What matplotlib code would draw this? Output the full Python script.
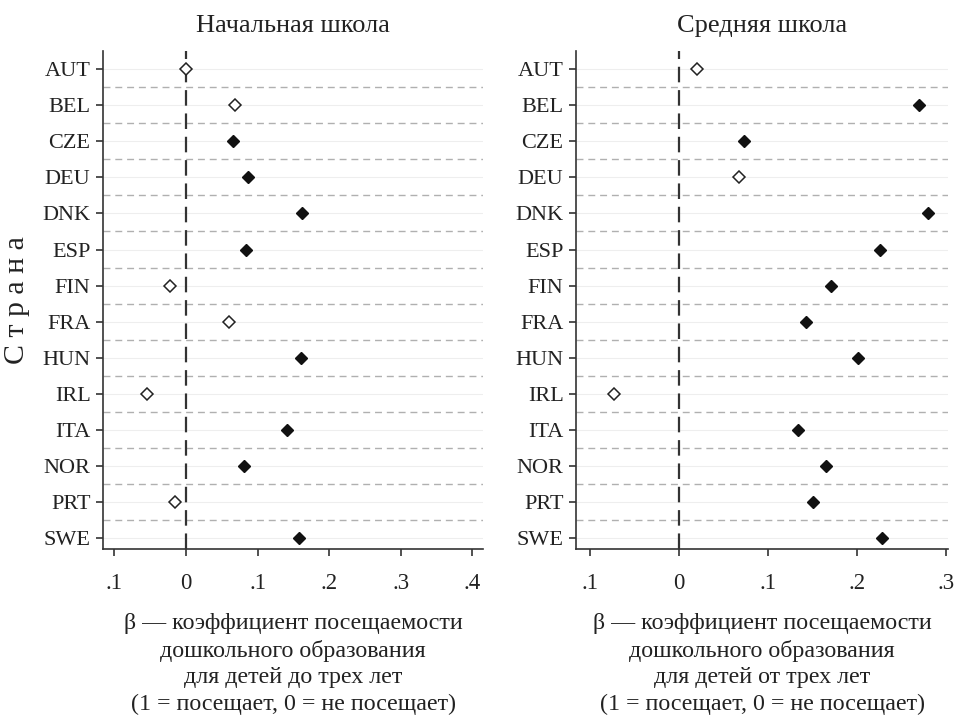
import matplotlib.pyplot as plt

countries = ["AUT", "BEL", "CZE", "DEU", "DNK", "ESP", "FIN",
             "FRA", "HUN", "IRL", "ITA", "NOR", "PRT", "SWE"]

# primary school: effect of attending pre-school under age three
primary_beta = [0.000, 0.069, 0.066, 0.087, 0.162, 0.084, -0.022,
                0.060, 0.160, -0.055, 0.141, 0.081, -0.016, 0.158]
primary_signif = [False, False, True, True, True, True, False,
                  False, True, False, True, True, False, True]

# secondary school: effect of attending pre-school from age three
secondary_beta = [0.020, 0.269, 0.073, 0.067, 0.280, 0.226, 0.171,
                  0.143, 0.201, -0.073, 0.133, 0.165, 0.150, 0.228]
secondary_signif = [False, True, True, False, True, True, True,
                    True, True, False, True, True, True, True]

primary_ticks = [-0.1, 0.0, 0.1, 0.2, 0.3, 0.4]
primary_ticklabels = [".1", "0", ".1", ".2", ".3", ".4"]
secondary_ticks = [-0.1, 0.0, 0.1, 0.2, 0.3]
secondary_ticklabels = [".1", "0", ".1", ".2", ".3"]

titles = ["Начальная школа", "Средняя школа"]
xlabels = [
    "β — коэффициент посещаемости\nдошкольного образования\n"
    "для детей до трех лет\n(1 = посещает, 0 = не посещает)",
    "β — коэффициент посещаемости\nдошкольного образования\n"
    "для детей от трех лет\n(1 = посещает, 0 = не посещает)",
]

plt.rcParams["font.family"] = ["Liberation Serif", "DejaVu Serif"]
ink = "#222222"

fig = plt.figure(figsize=(9.62, 7.19), dpi=100)

panels = [
    (fig.add_axes([0.1071, 0.2364, 0.395, 0.6926]), primary_beta, primary_signif,
     primary_ticks, primary_ticklabels, (-0.116, 0.415)),
    (fig.add_axes([0.5988, 0.2364, 0.3867, 0.6926]), secondary_beta, secondary_signif,
     secondary_ticks, secondary_ticklabels, (-0.1157, 0.302)),
]

for i, (ax, beta, signif, ticks, ticklabels, xlim) in enumerate(panels):
    rows = list(range(len(countries)))

    # faint solid lines at rows, dashed separators between rows
    for r in rows:
        ax.axhline(r, color="#eeeeee", linewidth=0.8, zorder=0)
    for r in rows[:-1]:
        ax.axhline(r + 0.5, color="#b0b0b0", linewidth=1.0,
                   linestyle=(0, (5, 3.5)), zorder=1)

    ax.axvline(0, color="#333333", linewidth=1.6,
               linestyle=(0, (7, 3.5)), zorder=2)

    for r, b, s in zip(rows, beta, signif):
        if s:
            ax.plot(b, r, marker="D", markersize=6.5, color="#111111",
                    markeredgecolor="#111111", linestyle="none", zorder=3)
        else:
            ax.plot(b, r, marker="D", markersize=6.3, markerfacecolor="white",
                    markeredgecolor="#222222", markeredgewidth=1.1,
                    linestyle="none", zorder=3)

    ax.set_xlim(*xlim)
    ax.set_ylim(13.3, -0.5)
    ax.set_yticks(rows)
    ax.set_yticklabels(countries)
    ax.set_xticks(ticks)
    ax.set_xticklabels(ticklabels)

    ax.tick_params(axis="both", direction="out", length=5, width=1.2,
                   colors="#333333", labelcolor=ink, labelsize=16, pad=4)
    ax.tick_params(axis="x", pad=12, labelsize=16.5)

    for side in ["top", "right"]:
        ax.spines[side].set_visible(False)
    for side in ["left", "bottom"]:
        ax.spines[side].set_color("#333333")
        ax.spines[side].set_linewidth(1.2)

    ax.set_title(titles[i], fontsize=19, color=ink, pad=14)
    ax.set_xlabel(xlabels[i], fontsize=17.3, color=ink, labelpad=14,
                  linespacing=1.33)

fig.text(0.018, 0.583, "С т р а н а", rotation=90, fontsize=21.5,
         color=ink, ha="center", va="center")

plt.savefig("out.png", dpi=100, facecolor="white")
plt.close()
